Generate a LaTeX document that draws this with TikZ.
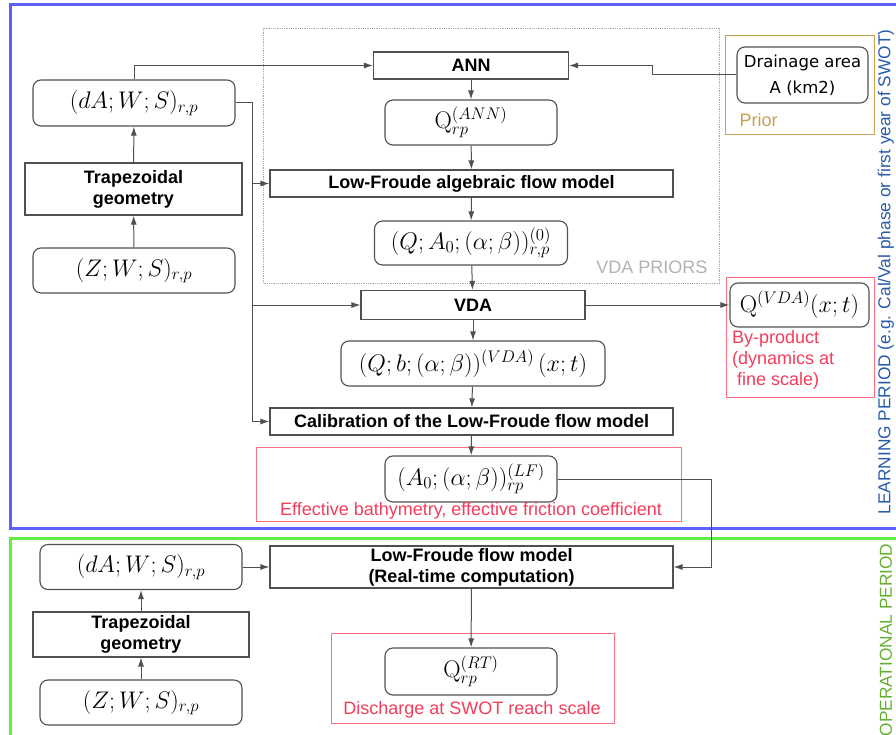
\RequirePackage{fix-cm}
\documentclass[tikz,border=0pt]{standalone}
\usepackage[no-math]{fontspec}
\setmainfont{Liberation Sans}
\newfontfamily\drainfont{DejaVu Sans}
\usetikzlibrary{arrows.meta}

\definecolor{learnblue}{RGB}{95,95,250}
\definecolor{opgreen}{RGB}{100,235,70}
\definecolor{learntext}{RGB}{40,90,170}
\definecolor{optext}{RGB}{100,175,50}
\definecolor{boxred}{RGB}{255,110,130}
\definecolor{redtext}{RGB}{245,60,90}
\definecolor{priortan}{RGB}{200,160,80}
\definecolor{linegray}{RGB}{80,80,80}

\tikzstyle{layer} = [draw=linegray,rectangle,line width=1.1pt,inner sep=0pt,align=center,font=\fontsize{18}{21}\selectfont\bfseries]
\tikzstyle{quantity} = [draw=linegray,rectangle,rounded corners=8pt,line width=1.1pt,inner sep=0pt,font=\fontsize{24}{26}\selectfont]
\tikzstyle{note} = [inner sep=0pt,align=left,font=\fontsize{18}{21}\selectfont,text=redtext]
\tikzstyle{redframe} = [draw=boxred,line width=0.8pt]
\tikzstyle{link} = [-{Latex[length=9pt,width=6pt]},draw=linegray,line width=1pt]

\begin{document}
\begin{tikzpicture}[x=1pt,y=-1pt]
	\useasboundingbox (0,0) rectangle (896,735);
	\clip (0,0) rectangle (896,735);
	\draw [learnblue,line width=3pt] (10,5) rectangle (910,528);
	\draw [opgreen,line width=3pt] (10,538) rectangle (910,760);
	\node (learning) [rotate=90,text=learntext,font=\fontsize{17.3}{19}\selectfont] at (886,272) {LEARNING PERIOD (e.g. Cal/Val phase or first year of SWOT)};
	\node (operational) [rotate=90,text=optext,font=\fontsize{17.3}{19}\selectfont] at (886,640) {OPERATIONAL PERIOD};

	\draw [gray!70,densely dotted,line width=0.8pt] (263,28) rectangle (719,283);
	\node (priorslabel) [anchor=east,text=gray!60,font=\fontsize{18}{21}\selectfont] at (711,267) {VDA PRIORS};
	\draw [priortan,line width=1pt] (725,36) rectangle (874,135);
	\node (priorlabel) [anchor=west,text=priortan,font=\fontsize{18}{21}\selectfont] at (736,120) {Prior};
	\draw [redframe] (726,277) rectangle (874,397);
	\draw [redframe] (256,447) rectangle (681,521);
	\draw [redframe] (331,633) rectangle (614,723);

	\node (daws1) [quantity,minimum width=202,minimum height=46] at (134,103) {$(dA;W;S)_{r,p}$};
	\node (trap1) [layer,minimum width=217,minimum height=52] at (133.5,189) {Trapezoidal\\geometry};
	\node (zws1) [quantity,minimum width=202,minimum height=45] at (134,270.5) {$(Z;W;S)_{r,p}$};

	\node (ann) [layer,minimum width=195,minimum height=27] at (471,65.5) {ANN};
	\node (qann) [quantity,minimum width=172,minimum height=45] at (471,122.5) {$\mathrm{Q}_{rp}^{(ANN)}$};
	\node (lfalg) [layer,minimum width=403,minimum height=27] at (471.5,183.5) {Low-Froude algebraic flow model};
	\node (q0) [quantity,minimum width=193,minimum height=44] at (471,243) {$(Q;A_0;(\alpha;\beta))^{(0)}_{r,p}$};
	\node (vda) [layer,minimum width=224,minimum height=29] at (473,305) {VDA};
	\node (qb) [quantity,minimum width=264,minimum height=45] at (473,363.5) {$(Q;b;(\alpha;\beta))^{(VDA)}\,(x;t)$};
	\node (calib) [layer,minimum width=403,minimum height=27] at (471.5,421.5) {Calibration of the Low-Froude flow model};
	\node (a0) [quantity,minimum width=172,minimum height=46] at (471,479) {$(A_0;(\alpha;\beta))^{(LF)}_{rp}$};
	\node (effective) [note] at (471,511) {Effective bathymetry, effective friction coefficient};

	\node (drain) [quantity,minimum width=131,minimum height=56,align=center,font=\fontsize{16.5}{26}\selectfont\drainfont] at (802.5,75) {Drainage area\\A (km2)};
	\node (qvda) [quantity,minimum width=139,minimum height=44] at (799.5,305) {$\mathrm{Q}^{(VDA)}(x;t)$};
	\node (byproduct) [note,anchor=north west] at (732,330) {By-product\\(dynamics at\\\ fine scale)};

	\node (daws2) [quantity,minimum width=202,minimum height=45] at (141,567) {$(dA;W;S)_{r,p}$};
	\node (trap2) [layer,minimum width=216,minimum height=45] at (141,634.5) {Trapezoidal\\geometry};
	\node (zws2) [quantity,minimum width=202,minimum height=45] at (141,702.5) {$(Z;W;S)_{r,p}$};
	\node (lf) [layer,minimum width=403,minimum height=42] at (471.5,567) {Low-Froude flow model\\(Real-time computation)};
	\node (qrt) [quantity,minimum width=172,minimum height=47] at (471,671.5) {$\mathrm{Q}_{rp}^{(RT)}$};
	\node (discharge) [note] at (472,710) {Discharge at SWOT reach scale};

	\coordinate (trunk) at (252,421.5);
	\coordinate (lfin) at (711,0);

	\draw [link] (zws1) -- (trap1);
	\draw [link] (trap1) -- (daws1);
	\draw [link] (daws1.north) |- (ann.west);
	\draw [link] (daws1.east) -| (trunk) -- (calib.west);
	\draw [link] (lfalg.west -| trunk) -- (lfalg.west);
	\draw [link] (vda.west -| trunk) -- (vda.west);
	\draw [link] (drain.west) -- ++(-84,0) |- (ann.east);
	\draw [link] (ann) -- (qann);
	\draw [link] (qann) -- (lfalg);
	\draw [link] (lfalg) -- (q0);
	\draw [link] (q0) -- (vda);
	\draw [link] (vda) -- (qvda);
	\draw [link] (vda) -- (qb);
	\draw [link] (qb) -- (calib);
	\draw [link] (calib) -- (a0);
	\draw [link] (a0.east) -| (lfin |- lf.east) -- (lf.east);
	\draw [link] (zws2) -- (trap2);
	\draw [link] (trap2) -- (daws2);
	\draw [link] (daws2) -- (lf);
	\draw [link] (lf) -- (qrt);
\end{tikzpicture}
\end{document}
